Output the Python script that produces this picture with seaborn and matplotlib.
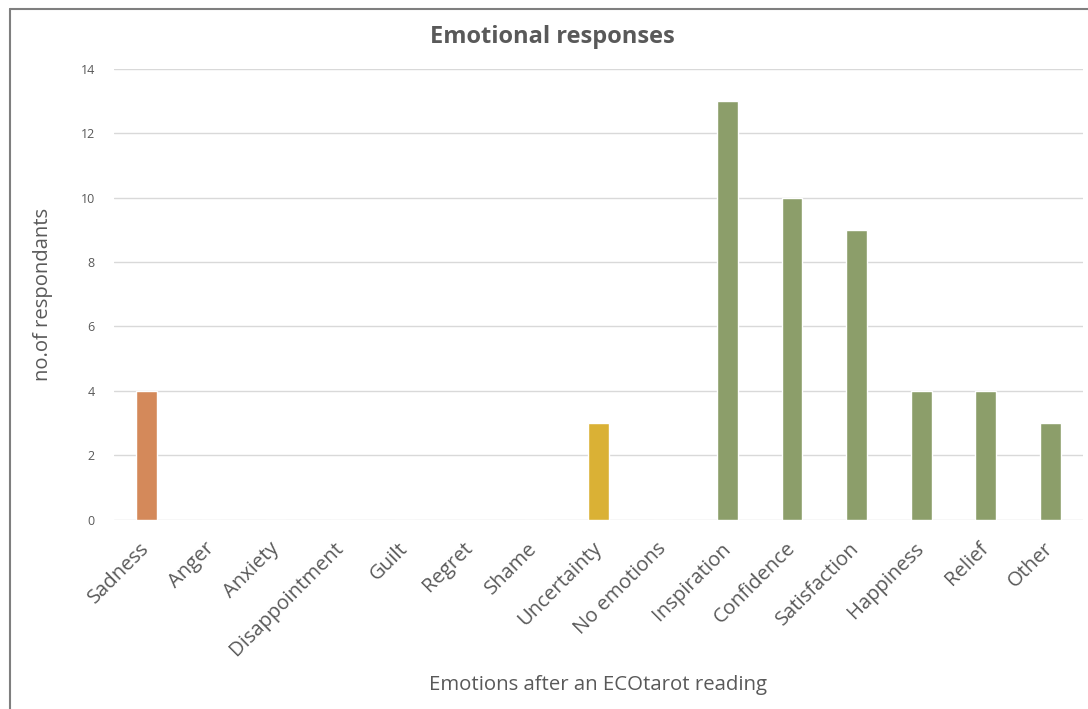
import matplotlib
matplotlib.use("Agg")
import matplotlib.pyplot as plt
import matplotlib.transforms as mtrans
from matplotlib.lines import Line2D
import seaborn as sns
import pandas as pd

# data
emotions = ['Sadness', 'Anger', 'Anxiety', 'Disappointment', 'Guilt', 'Regret', 'Shame',
            'Uncertainty', 'No emotions', 'Inspiration', 'Confidence', 'Satisfaction',
            'Happiness', 'Relief', 'Other']
counts = [4, 0, 0, 0, 0, 0, 0, 3, 0, 13, 10, 9, 4, 4, 3]
groups = ['negative'] * 7 + ['neutral'] * 2 + ['positive'] * 6
group_colors = {'negative': '#D4895A', 'neutral': '#DAB135', 'positive': '#8C9E6A'}

df = pd.DataFrame({'emotion': emotions, 'count': counts, 'group': groups})

sns.set_style('white')
plt.rcParams['font.family'] = ['Open Sans', 'DejaVu Sans']
txt = '#595959'

fig, ax = plt.subplots(figsize=(10.88, 7.09), dpi=100)
fig.subplots_adjust(left=0.105, right=0.995, top=0.903, bottom=0.267)

sns.barplot(data=df, x='emotion', y='count', hue='group', palette=group_colors,
            dodge=False, width=0.32, saturation=1, legend=False, ax=ax)

ax.set_ylim(0, 14)
ax.set_yticks(range(0, 15, 2))
ax.set_xlim(-0.5, len(emotions) - 0.5)
ax.yaxis.grid(True, color='#D9D9D9', linewidth=1)
ax.set_axisbelow(True)
sns.despine(ax=ax, left=True, bottom=True)
ax.tick_params(length=0)
ax.tick_params(axis='y', labelsize=9, labelcolor=txt, pad=14)
ax.tick_params(axis='x', labelsize=14.6, labelcolor=txt, pad=10)
shift = mtrans.ScaledTranslation(-0.07, -0.05, fig.dpi_scale_trans)
for lbl in ax.get_xticklabels():
    lbl.set_rotation(45)
    lbl.set_ha('right')
    lbl.set_rotation_mode('anchor')
    lbl.set_transform(lbl.get_transform() + shift)

fig.text(552 / 1088, 1 - 37 / 709, 'Emotional responses', fontsize=17, fontweight='bold',
         color=txt, ha='center', va='center')
ax.set_xlabel('')
ax.set_ylabel('')
fig.text(598 / 1088, 1 - 685 / 709, 'Emotions after an ECOtarot reading', fontsize=14.7,
         color=txt, ha='center', va='center')
fig.text(43 / 1088, 1 - 294 / 709, 'no.of respondants', fontsize=14.6, color=txt,
         ha='center', va='center', rotation=90)

# outer chart frame (top and left edges visible in the screenshot)
fig.add_artist(Line2D([0.0092, 1.0], [0.987, 0.987], color='#7F7F7F', linewidth=1.5))
fig.add_artist(Line2D([0.0092, 0.0092], [0.0, 0.987], color='#7F7F7F', linewidth=1.5))

plt.savefig('out.png', dpi=100)
